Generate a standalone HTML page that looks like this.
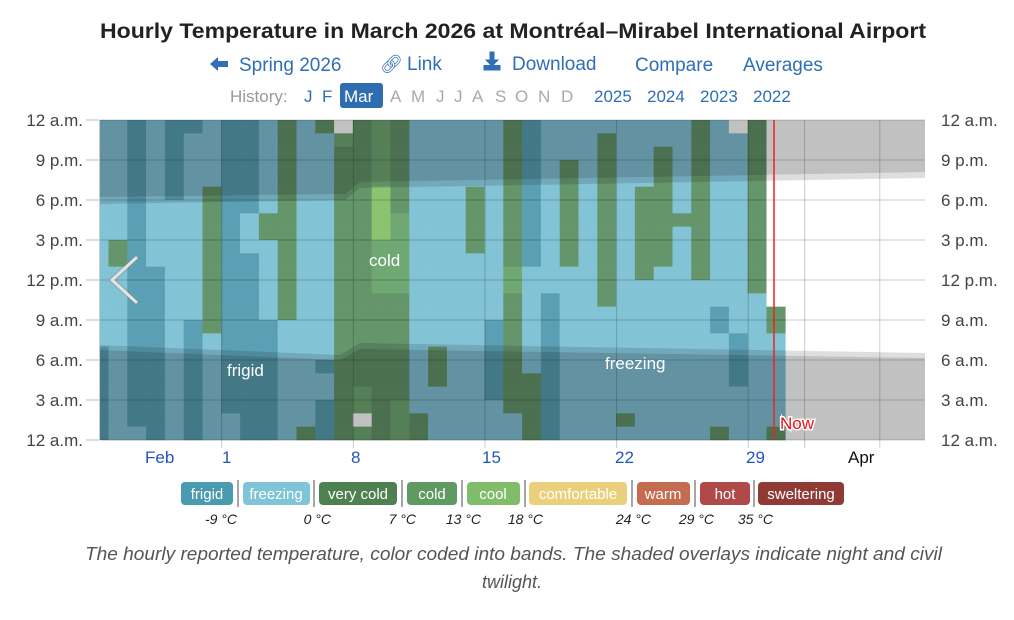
<!DOCTYPE html>
<html><head><meta charset="utf-8">
<style>
html,body{margin:0;padding:0;background:#fff;width:1014px;height:620px;overflow:hidden;font-family:"Liberation Sans",sans-serif;}
svg{position:absolute;left:0;top:0;}
</style></head>
<body>
<svg id="s" width="1014" height="620" viewBox="0 0 1014 620" xmlns="http://www.w3.org/2000/svg" font-family="Liberation Sans, sans-serif">
<g id="cells"></g>
<polygon points="100,120 925,120 925,178 360,188 345,200 100,204" fill="#000" fill-opacity="0.13"/>
<polygon points="100,120 925,120 925,172 360,182 345,194 100,197" fill="#000" fill-opacity="0.13"/>
<polygon points="100,345 340,355 360,343 925,353 925,440 100,440" fill="#000" fill-opacity="0.13"/>
<polygon points="100,350 340,360 360,349 925,358 925,440 100,440" fill="#000" fill-opacity="0.13"/>
<g id="grid" stroke="#000" stroke-opacity="0.2" stroke-width="1"></g>
<line x1="99.5" y1="120" x2="99.5" y2="440" stroke="#ccc"/>
<g font-size="17" fill="#444" text-anchor="end">
<text x="83" y="126">12 a.m.</text><text x="83" y="166">9 p.m.</text><text x="83" y="206">6 p.m.</text><text x="83" y="246">3 p.m.</text><text x="83" y="286">12 p.m.</text><text x="83" y="326">9 a.m.</text><text x="83" y="366">6 a.m.</text><text x="83" y="406">3 a.m.</text><text x="83" y="446">12 a.m.</text>
</g>
<g font-size="17" fill="#444">
<text x="941" y="126">12 a.m.</text><text x="941" y="166">9 p.m.</text><text x="941" y="206">6 p.m.</text><text x="941" y="246">3 p.m.</text><text x="941" y="286">12 p.m.</text><text x="941" y="326">9 a.m.</text><text x="941" y="366">6 a.m.</text><text x="941" y="406">3 a.m.</text><text x="941" y="446">12 a.m.</text>
</g>
<g stroke="#bbb"><line x1="86" y1="120" x2="99" y2="120"/><line x1="86" y1="160" x2="99" y2="160"/><line x1="86" y1="200" x2="99" y2="200"/><line x1="86" y1="240" x2="99" y2="240"/><line x1="86" y1="280" x2="99" y2="280"/><line x1="86" y1="320" x2="99" y2="320"/><line x1="86" y1="360" x2="99" y2="360"/><line x1="86" y1="400" x2="99" y2="400"/><line x1="86" y1="440" x2="99" y2="440"/></g>
<g font-size="17" fill="#2255bb">
<text x="145" y="463">Feb</text><text x="222" y="463">1</text><text x="351" y="463">8</text><text x="482" y="463">15</text><text x="615" y="463">22</text><text x="746" y="463">29</text>
</g>
<text x="848" y="463" font-size="17" fill="#111">Apr</text>
<line x1="774" y1="120" x2="774" y2="440" stroke="#ee2222" stroke-width="1.5"/>
<text x="780" y="429" font-size="17" fill="#ee1111" stroke="#fff" stroke-width="3" paint-order="stroke">Now</text>
<g font-size="17" fill="#fff">
<text x="369" y="266">cold</text><text x="227" y="376">frigid</text><text x="605" y="369">freezing</text>
</g>
<polyline points="136,258 112,280 136,302" fill="none" stroke="#888" stroke-width="5" stroke-linecap="round" stroke-linejoin="round" stroke-opacity="0.5"/>
<polyline points="136,258 112,280 136,302" fill="none" stroke="#e4e4e4" stroke-width="3" stroke-linecap="round" stroke-linejoin="round"/>
<text x="100" y="38" font-size="21" font-weight="bold" fill="#222" textLength="826" lengthAdjust="spacingAndGlyphs">Hourly Temperature in March 2026 at Montréal–Mirabel International Airport</text>
<g font-size="19" fill="#2e6fb5">
<path d="M210,64 l8,-7 v4 h10 v6 h-10 v4 z" fill="#2e6fb5"/>
<text x="239" y="71">Spring 2026</text>
<text x="380" y="70" font-size="18">&#x1F517;&#xFE0E;</text>
<text x="407" y="70">Link</text>
<path d="M490,52 h4 v8 h4 l-6,6 l-6,-6 h4 z M484,65 v5 h16 v-5" fill="#2e6fb5" stroke="#2e6fb5" stroke-width="1"/>
<text x="512" y="70">Download</text>
<text x="635" y="71">Compare</text>
<text x="743" y="71">Averages</text>
</g>
<g font-size="17">
<text x="230" y="102" fill="#999">History:</text>
<text x="304" y="102" fill="#2e6fb5">J</text>
<text x="322" y="102" fill="#2e6fb5">F</text>
<rect x="340" y="83" width="43" height="25" rx="3" fill="#2e6db0"/>
<text x="344" y="102" fill="#fff">Mar</text>
<text x="390" y="102" fill="#aaa">A</text><text x="411" y="102" fill="#aaa">M</text><text x="436" y="102" fill="#aaa">J</text><text x="454" y="102" fill="#aaa">J</text><text x="472" y="102" fill="#aaa">A</text><text x="495" y="102" fill="#aaa">S</text><text x="515" y="102" fill="#aaa">O</text><text x="538" y="102" fill="#aaa">N</text><text x="561" y="102" fill="#aaa">D</text>
<text x="594" y="102" fill="#2e6fb5">2025</text><text x="647" y="102" fill="#2e6fb5">2024</text><text x="700" y="102" fill="#2e6fb5">2023</text><text x="753" y="102" fill="#2e6fb5">2022</text>
</g>
<g font-size="15" fill="#fff" text-anchor="middle">
<rect x="181" y="482" width="52" height="23" rx="4" fill="#4a9bb0"/><text x="207" y="499">frigid</text>
<rect x="243" y="482" width="67" height="23" rx="4" fill="#80c4d8"/><text x="276" y="499">freezing</text>
<rect x="319" y="482" width="78" height="23" rx="4" fill="#4f8050"/><text x="358" y="499">very cold</text>
<rect x="407" y="482" width="50" height="23" rx="4" fill="#5e9a62"/><text x="432" y="499">cold</text>
<rect x="467" y="482" width="53" height="23" rx="4" fill="#7fbd6a"/><text x="493" y="499">cool</text>
<rect x="529" y="482" width="98" height="23" rx="4" fill="#ead07a"/><text x="578" y="499">comfortable</text>
<rect x="637" y="482" width="53" height="23" rx="4" fill="#c56b50"/><text x="663" y="499">warm</text>
<rect x="700" y="482" width="50" height="23" rx="4" fill="#b04a4a"/><text x="725" y="499">hot</text>
<rect x="758" y="482" width="86" height="23" rx="4" fill="#8f3a35"/><text x="801" y="499">sweltering</text>
</g>
<g stroke="#888" stroke-width="1.5">
<line x1="238" y1="480" x2="238" y2="507"/><line x1="314" y1="480" x2="314" y2="507"/><line x1="402" y1="480" x2="402" y2="507"/><line x1="462" y1="480" x2="462" y2="507"/><line x1="525" y1="480" x2="525" y2="507"/><line x1="632" y1="480" x2="632" y2="507"/><line x1="695" y1="480" x2="695" y2="507"/><line x1="754" y1="480" x2="754" y2="507"/>
</g>
<g font-size="14" font-style="italic" fill="#222" text-anchor="end">
<text x="237" y="524">-9 °C</text><text x="331" y="524">0 °C</text><text x="416" y="524">7 °C</text><text x="481" y="524">13 °C</text><text x="543" y="524">18 °C</text><text x="651" y="524">24 °C</text><text x="714" y="524">29 °C</text><text x="773" y="524">35 °C</text>
</g>
<g font-size="18" font-style="italic" fill="#555">
<text x="85" y="560" textLength="857" lengthAdjust="spacingAndGlyphs">The hourly reported temperature, color coded into bands. The shaded overlays indicate night and civil</text>
<text x="512" y="588" text-anchor="middle">twilight.</text>
</g>
</svg>
<script>
var cols=[
"ZZZZZZZZZVVZZZZZZZZZZZZZ",
"FFFFFFFFFFFFFFFFFFFFFFFZ",
"ZZZZZZZZZZZFFFFFFFFFFFFF",
"FFFFFFZZZZZZZZZZZZZZZZZZ",
"FZZZZZZZZZZZZZZFFFFFFFFF",
"ZZZZZVVVVVVVVVVVZZZZZZZZ",
"FFFFFFFFFFFFFFFFFFFFFFZZ",
"FFFFFFFZZZFFFFFFFFFFFFFF",
"ZZZZZZZVVZZZZZZFFFFFFFFF",
"VVVVVVVVVVVVVVVZZZZZZZZZ",
"ZZZZZZZZZZZZZZZZZZZZZZZV",
"VZZZZZZZZZZZZZZZZZFZZFFF",
"NCVVVVVVVVVVVVVVVVVVVVVV",
"VVVVVVVVVVVVVVVVVVVVCCNC",
"CCCCCLLLLCCCCVVVVVVVVVVV",
"VVVVVVVCCCCCCVVVVVVVVCCC",
"ZZZZZZZZZZZZZZZZZZZZZZVV",
"ZZZZZZZZZZZZZZZZZVVVZZZZ",
"ZZZZZZZZZZZZZZZZZZZZZZZZ",
"ZZZZZVVVVVZZZZZZZZZZZZZZ",
"ZZZZZZZZZZZZZZZFFFFFFZZZ",
"VVVVVVVVVVVCCVVVVVVVVVZZ",
"FFFFFFFFFFFZZZZZZZZVVVVV",
"ZZZZZZZZZZZZZFFFFFFFFFFF",
"ZZZVVVVVVVVZZZZZZZZZZZZZ",
"ZZZZZZZZZZZZZZZZZZZZZZZZ",
"ZVVVVVVVVVVVVVZZZZZZZZZZ",
"ZZZZZZZZZZZZZZZZZZZZZZVZ",
"ZZZZZVVVVVVVZZZZZZZZZZZZ",
"ZZVVVVVVVVVZZZZZZZZZZZZZ",
"ZZZZZZZVZZZZZZZZZZZZZZZZ",
"VVVVVVVVVVVVZZZZZZZZZZZZ",
"ZZZZZZZZZZZZZZFFZZZZZZZV",
"NZZZZZZZZZZZZZZZFFFFZZZZ",
"VVVVVVVVVVVVVZZZZZZZZZZZ",
"NNNNNNNNNNNNNNVVZZZZZZZV"];
var C={F:"#5a9fb4",Z:"#83c3d6",V:"#65956a",C:"#70a874",L:"#8bc36e",N:"#ffffff"};
var g=document.getElementById("cells"),h="";
var sl="ZZZZZZZZZZZZZZZZZFFFFFFF";
for(var r=0;r<24;r++){h+='<rect x="99.7" y="'+(120+r*13.333)+'" width="9" height="13.5" fill="'+C[sl[r]]+'"/>';}
for(var k=0;k<cols.length;k++){var x=108.5+18.8*k;for(var r=0;r<24;r++){h+='<rect x="'+x.toFixed(2)+'" y="'+(120+r*13.333).toFixed(2)+'" width="19.1" height="13.6" fill="'+C[cols[k][r]]+'"/>';}}
g.innerHTML=h;
var gr="";for(var i=0;i<9;i++){gr+='<line x1="100" x2="925" y1="'+(120+40*i)+'" y2="'+(120+40*i)+'"/>';}
[221.7,353.3,485,616.6,748.2,804.6,879.8].forEach(function(x){gr+='<line x1="'+x+'" x2="'+x+'" y1="120" y2="448"/>';});
document.getElementById("grid").innerHTML=gr;
</script>
</body></html>
